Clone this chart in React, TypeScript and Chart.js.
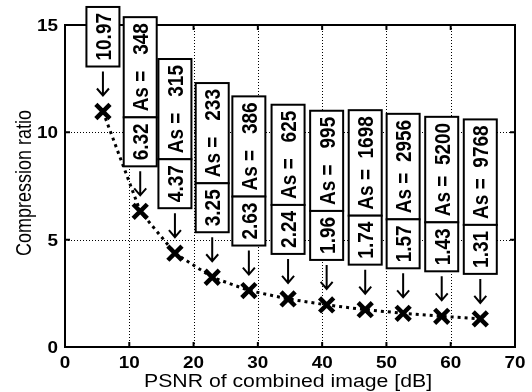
import React, { useEffect, useRef } from "react";
import { Chart, registerables } from "chart.js";

Chart.register(...registerables);

// ---- data ----
const psnr = [5.9, 11.7, 17.1, 22.9, 28.6, 34.7, 40.7, 46.7, 52.6, 58.6, 64.6];
const compressionRatio = [10.97, 6.32, 4.37, 3.25, 2.63, 2.24, 1.96, 1.74, 1.57, 1.43, 1.31];
const asValues: (number | null)[] = [null, 348, 315, 233, 386, 625, 995, 1698, 2956, 5200, 9768];
const xTicks = [0, 10, 20, 30, 40, 50, 60, 70];
const yTicks = [0, 5, 10, 15];
const xTitle = "PSNR of combined image [dB]";
const yTitle = "Compression ratio";

// ---- style ----
const FONT = '"Liberation Sans", Arial, Helvetica, sans-serif';
const STRETCH = 1.18;

function drawText(
  ctx: CanvasRenderingContext2D,
  s: string,
  x: number,
  y: number,
  font: string,
  align: CanvasTextAlign,
  rotated: boolean
) {
  ctx.save();
  ctx.translate(x, y);
  ctx.scale(STRETCH, 1);
  if (rotated) ctx.rotate(-Math.PI / 2);
  ctx.font = font;
  ctx.textAlign = align;
  ctx.textBaseline = "alphabetic";
  ctx.fillStyle = "#000";
  ctx.fillText(s, 0, 0);
  ctx.restore();
}

const decorPlugin = {
  id: "decor",
  beforeDatasetsDraw(chart: any) {
    const { ctx, chartArea, scales } = chart;
    const { left, right, top, bottom } = chartArea;
    ctx.save();
    ctx.strokeStyle = "#000";
    ctx.lineWidth = 1;
    ctx.setLineDash([1, 2]);
    for (const v of xTicks) {
      const px = Math.round(scales.x.getPixelForValue(v)) + 0.5;
      if (px <= left + 2 || px >= right - 2) continue;
      ctx.beginPath();
      ctx.moveTo(px, top);
      ctx.lineTo(px, bottom);
      ctx.stroke();
    }
    for (const v of yTicks) {
      const py = Math.round(scales.y.getPixelForValue(v)) + 0.5;
      if (py <= top + 2 || py >= bottom - 2) continue;
      ctx.beginPath();
      ctx.moveTo(left, py);
      ctx.lineTo(right, py);
      ctx.stroke();
    }
    ctx.restore();
  },
  afterDatasetsDraw(chart: any) {
    const { ctx, chartArea, scales } = chart;
    const { left, right, top, bottom } = chartArea;
    ctx.save();
    ctx.setLineDash([]);
    ctx.strokeStyle = "#000";
    // frame
    ctx.lineWidth = 2;
    ctx.strokeRect(left, top, right - left, bottom - top);
    // inward ticks
    const tl = 5;
    for (const v of xTicks) {
      const px = scales.x.getPixelForValue(v);
      ctx.beginPath();
      ctx.moveTo(px, bottom);
      ctx.lineTo(px, bottom - tl);
      ctx.moveTo(px, top);
      ctx.lineTo(px, top + tl);
      ctx.stroke();
    }
    for (const v of yTicks) {
      const py = scales.y.getPixelForValue(v);
      ctx.beginPath();
      ctx.moveTo(left, py);
      ctx.lineTo(left + tl, py);
      ctx.moveTo(right, py);
      ctx.lineTo(right - tl, py);
      ctx.stroke();
    }
    // tick labels
    const tickFont = `bold 16px ${FONT}`;
    for (const v of xTicks) {
      drawText(ctx, String(v), scales.x.getPixelForValue(v), bottom + 21, tickFont, "center", false);
    }
    for (const v of yTicks) {
      drawText(ctx, String(v), left - 7, scales.y.getPixelForValue(v) + 6, tickFont, "right", false);
    }
    // titles
    const titleFont = `18px ${FONT}`;
    drawText(ctx, xTitle, (left + right) / 2 - 2, bottom + 40, titleFont, "center", false);
    drawText(ctx, yTitle, left - 34, (top + bottom) / 2 - 3, titleFont, "center", true);

    // annotations
    const fs = 19;
    const boxFont = `bold ${fs}px ${FONT}`;
    const pad = 6;
    const boxW = 33;
    const capOff = (0.716 * fs * STRETCH) / 2;
    const drawBox = (cx: number, y0: number, y1: number, s: string) => {
      ctx.save();
      ctx.fillStyle = "#fff";
      ctx.fillRect(cx - boxW / 2, y0, boxW, y1 - y0);
      ctx.lineWidth = 2;
      ctx.strokeStyle = "#000";
      ctx.strokeRect(cx - boxW / 2, y0, boxW, y1 - y0);
      ctx.restore();
      drawText(ctx, s, cx + capOff, (y0 + y1) / 2, boxFont, "center", true);
    };
    for (let i = 0; i < psnr.length; i++) {
      const px = scales.x.getPixelForValue(psnr[i]);
      const py = scales.y.getPixelForValue(compressionRatio[i]);
      const vBottom = py - 45;
      const vStr = compressionRatio[i].toFixed(2);
      ctx.font = boxFont;
      const lv = ctx.measureText(vStr).width + 2 * pad;
      const a = asValues[i];
      if (a !== null) {
        const aStr = "As = " + String(a).padStart(5, " ");
        ctx.font = boxFont;
        const la = ctx.measureText(aStr).width + 2 * pad;
        drawBox(px, vBottom - lv - la, vBottom - lv, aStr);
      }
      drawBox(px, vBottom - lv, vBottom, vStr);
      // arrow
      const y0 = vBottom + 5;
      const y1 = py - 16;
      ctx.save();
      ctx.strokeStyle = "#000";
      ctx.lineWidth = 2;
      ctx.beginPath();
      ctx.moveTo(px, y0);
      ctx.lineTo(px, y1);
      ctx.moveTo(px - 6, y1 - 7);
      ctx.lineTo(px, y1);
      ctx.lineTo(px + 6, y1 - 7);
      ctx.stroke();
      ctx.restore();
    }
    ctx.restore();
  },
};

export default function App() {
  const ref = useRef<HTMLCanvasElement | null>(null);
  useEffect(() => {
    if (!ref.current) return;
    const chart = new Chart(ref.current, {
      type: "scatter",
      data: {
        datasets: [
          {
            data: psnr.map((x, i) => ({ x, y: compressionRatio[i] })),
            showLine: true,
            borderColor: "#000",
            borderWidth: 3,
            borderDash: [3, 4],
            tension: 0,
            pointStyle: "crossRot",
            pointRadius: 10,
            pointBorderWidth: 4.5,
            pointBorderColor: "#000",
            pointBackgroundColor: "#000",
          } as any,
        ],
      },
      options: {
        animation: false,
        responsive: false,
        events: [],
        layout: { padding: { top: 25, right: 17, left: 0, bottom: 0 } },
        plugins: { legend: { display: false }, tooltip: { enabled: false } },
        scales: {
          x: {
            type: "linear",
            min: 0,
            max: 70,
            ticks: { display: false },
            grid: { display: false },
            border: { display: false },
            afterFit: (s: any) => {
              s.height = 45;
            },
          },
          y: {
            type: "linear",
            min: 0,
            max: 15,
            ticks: { display: false },
            grid: { display: false },
            border: { display: false },
            afterFit: (s: any) => {
              s.width = 65;
            },
          },
        },
      },
      plugins: [decorPlugin],
    });
    return () => chart.destroy();
  }, []);
  return (
    <div style={{ position: "fixed", left: 0, top: 0, width: 532, height: 392, background: "#fff" }}>
      <canvas ref={ref} width={532} height={392} />
    </div>
  );
}
